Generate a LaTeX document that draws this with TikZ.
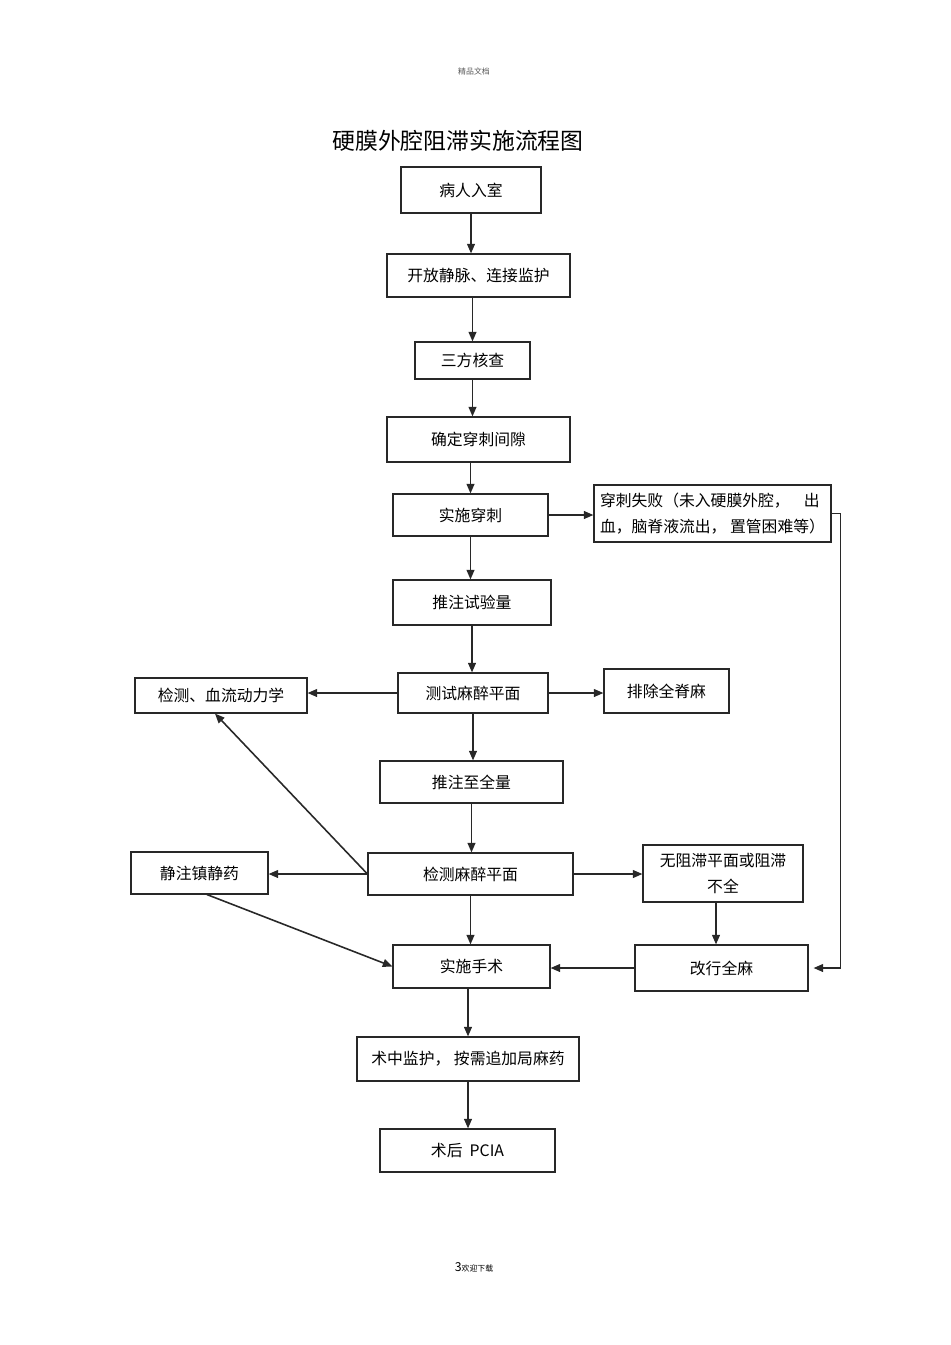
\documentclass[tikz,border=0pt]{standalone}
\usepackage{fontspec}
\usepackage{tikz}
\usetikzlibrary{arrows.meta, positioning, calc}
\newfontfamily\cjk{Noto Sans CJK SC}
\definecolor{lineGray}{RGB}{40, 40, 40}
\definecolor{noteGray}{RGB}{90, 90, 90}

\begin{document}
\begin{tikzpicture}[
    x=0.02cm, y=-0.02cm,
    box/.style={rectangle, draw=lineGray, line width=0.65pt, fill=white, align=center, inner sep=2pt, font=\cjk\fontsize{9}{15}\selectfont},
    arrow/.style={-{Triangle[length=5.5pt, width=4.5pt]}, line width=0.9pt, lineGray},
    note/.style={font=\cjk\fontsize{4.5}{5}\selectfont, text=noteGray, inner sep=0pt}
]
    \useasboundingbox (0,0) rectangle (950,1345);

    % Header, title, footer
    \node[note] (header) at (474,71) {精品文档};
    \node[font=\cjk\fontsize{13}{15}\selectfont, inner sep=0pt] (title) at (458,141) {硬膜外腔阻滞实施流程图};
    \node[note, text=black] (footer) at (474,1267) {{\fontsize{7}{8}\selectfont 3}欢迎下载};

    % Main column
    \node[box, minimum width=140*0.02cm, minimum height=46*0.02cm] (enter) at (471,190) {病人入室};
    \node[box, minimum width=183*0.02cm, minimum height=43*0.02cm] (vein) at (478.5,275.5) {开放静脉、连接监护};
    \node[box, minimum width=115*0.02cm, minimum height=37*0.02cm] (check) at (472.5,360.5) {三方核查};
    \node[box, minimum width=183*0.02cm, minimum height=45*0.02cm] (gap) at (478.5,439.5) {确定穿刺间隙};
    \node[box, minimum width=155*0.02cm, minimum height=42*0.02cm] (puncture) at (470.5,515) {实施穿刺};
    \node[box, minimum width=158*0.02cm, minimum height=45*0.02cm] (testdose) at (472,602.5) {推注试验量};
    \node[box, minimum width=150*0.02cm, minimum height=40*0.02cm] (testlevel) at (473,693) {测试麻醉平面};
    \node[box, minimum width=183*0.02cm, minimum height=42*0.02cm] (fulldose) at (471.5,782) {推注至全量};
    \node[box, minimum width=205*0.02cm, minimum height=42*0.02cm] (monlevel) at (470.5,874) {检测麻醉平面};
    \node[box, minimum width=157*0.02cm, minimum height=43*0.02cm] (surgery) at (471.5,966.5) {实施手术};
    \node[box, minimum width=222*0.02cm, minimum height=44*0.02cm] (intraop) at (468,1059) {术中监护，\ 按需追加局麻药};
    \node[box, minimum width=175*0.02cm, minimum height=43*0.02cm] (postop) at (467.5,1150.5) {术后\ \ PCIA};

    % Side boxes
    \node[box, minimum width=237*0.02cm, minimum height=57*0.02cm, align=left] (fail) at (712.5,513.5) {穿刺失败（未入硬膜外腔，\ \ \ \ 出\\血，脑脊液流出，\ 置管困难等）};
    \node[box, minimum width=172*0.02cm, minimum height=35*0.02cm] (hemo) at (221,695.5) {检测、血流动力学};
    \node[box, minimum width=125*0.02cm, minimum height=44*0.02cm] (spinal) at (666.5,691) {排除全脊麻};
    \node[box, minimum width=137*0.02cm, minimum height=42*0.02cm] (sedate) at (199.5,873) {静注镇静药};
    \node[box, minimum width=160*0.02cm, minimum height=57*0.02cm] (noblock) at (723,873.5) {无阻滞平面或阻滞\\不全};
    \node[box, minimum width=173*0.02cm, minimum height=46*0.02cm] (general) at (721.5,968) {改行全麻};

    % Connections
    \draw[arrow] (enter.south) -- (enter.south |- vein.north);
    \draw[arrow] (check.north |- vein.south) -- (check.north);
    \draw[arrow] (check.south) -- (check.south |- gap.north);
    \draw[arrow] (puncture.north |- gap.south) -- (puncture.north);
    \draw[arrow] (puncture.east) -- (puncture.east -| fail.west);
    \draw[arrow] (fail.east) -- ++(9,0) |- ([xshift=0.1cm]general.east);
    \draw[arrow] (puncture.south) -- (puncture.south |- testdose.north);
    \draw[arrow] (testdose.south) -- (testdose.south |- testlevel.north);
    \draw[arrow] (testlevel.west) -- (testlevel.west -| hemo.east);
    \draw[arrow] (testlevel.east) -- (testlevel.east -| spinal.west);
    \draw[arrow] (testlevel.south) -- (testlevel.south |- fulldose.north);
    \draw[arrow] (fulldose.south) -- (fulldose.south |- monlevel.north);
    \draw[arrow] (monlevel.west) -- (monlevel.west -| sedate.east);
    \draw[arrow] (monlevel.west) -- ([xshift=-0.12cm]hemo.south);
    \draw[arrow] (monlevel.east) -- (monlevel.east -| noblock.west);
    \draw[arrow] (monlevel.south) -- (monlevel.south |- surgery.north);
    \draw[arrow] ([xshift=0.15cm]sedate.south) -- (surgery.west);
    \draw[arrow] ([xshift=-0.14cm]noblock.south) -- ([xshift=-0.14cm]noblock.south |- general.north);
    \draw[arrow] (general.west) -- (general.west -| surgery.east);
    \draw[arrow] (intraop.north |- surgery.south) -- (intraop.north);
    \draw[arrow] (intraop.south) -- (intraop.south |- postop.north);
\end{tikzpicture}
\end{document}
